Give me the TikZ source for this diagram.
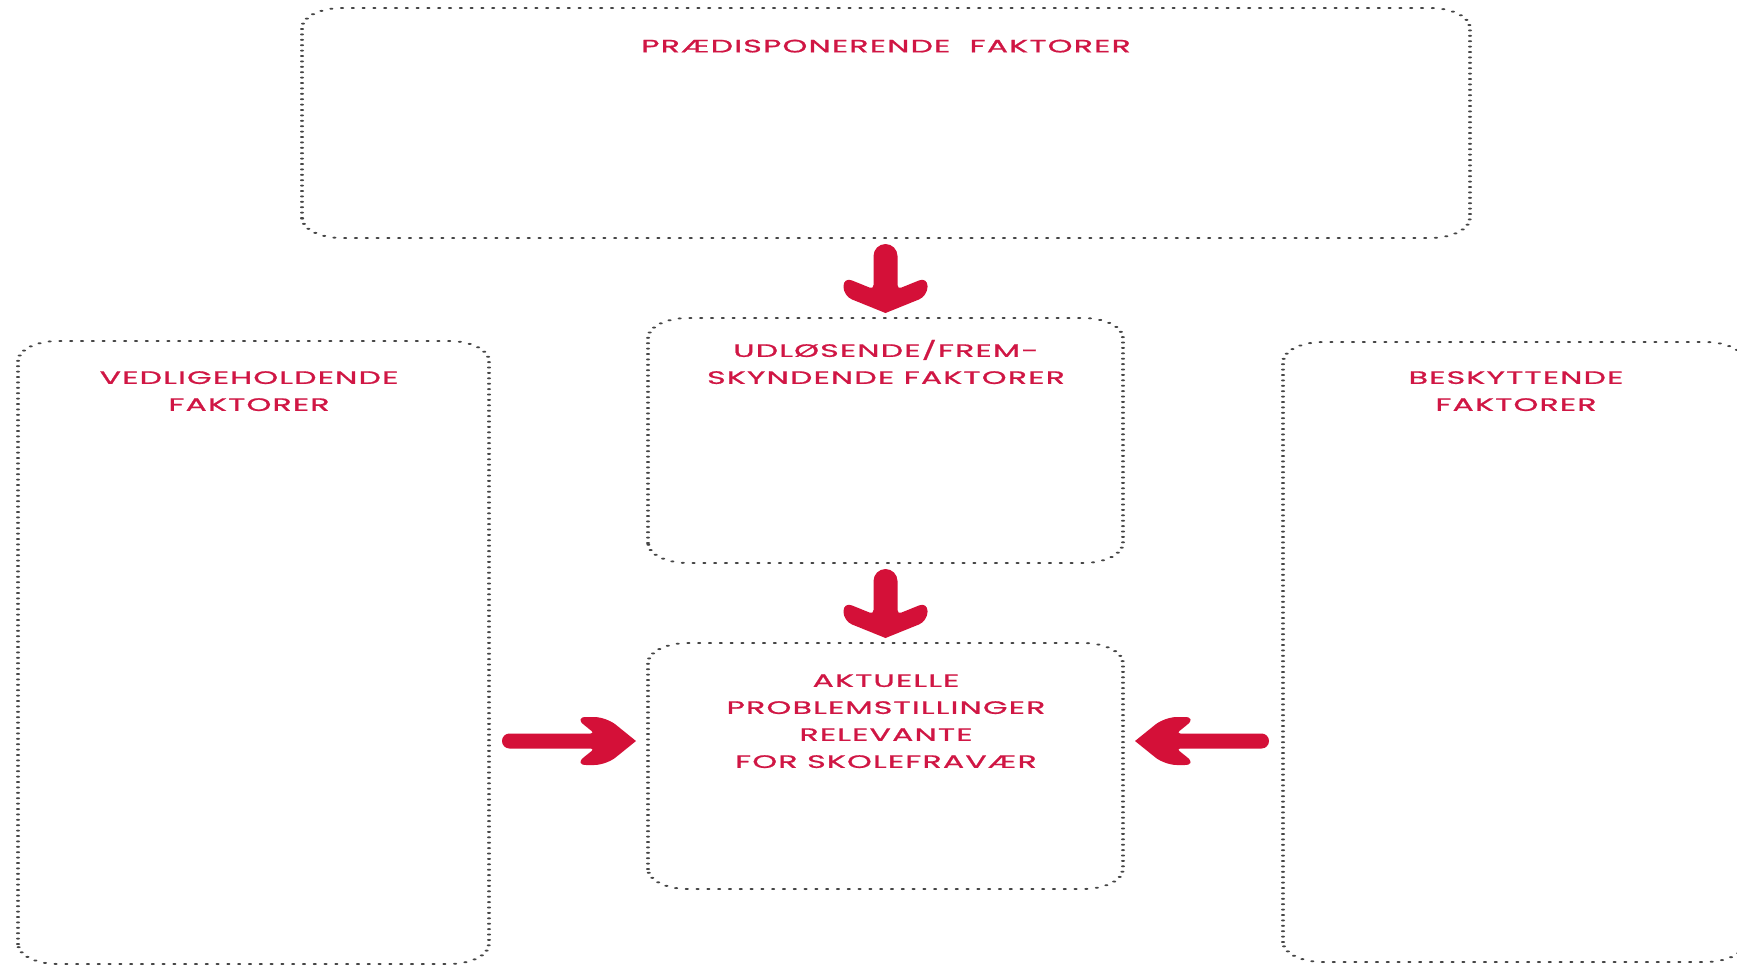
\documentclass[tikz,border=0pt]{standalone}
\usepackage{fontspec}
\setmainfont{Poppins}
\newfontfamily\lblfont[LetterSpace=4,FakeBold=0.9]{Poppins}
\usetikzlibrary{calc}
\definecolor{txtred}{RGB}{208,22,68}
\definecolor{arrred}{RGB}{212,16,56}
\definecolor{dotgray}{RGB}{70,70,70}
\newcommand\txs{1.75}
\newcommand\sx[1]{\scalebox{\txs}[1]{\begin{tabular}{@{}c@{}}#1\end{tabular}}}
\newcommand\dotoutline[1]{%
  \path (#1.south west); \pgfgetlastxy{\dbax}{\dbay}%
  \path (#1.north east); \pgfgetlastxy{\dbbx}{\dbby}%
  \draw[dotbox] ({\dbax/2},{\dbay}) rectangle ({\dbbx/2},{\dbby});}
\begin{document}
\begin{tikzpicture}[x=0.5pt,y=-0.5pt,
  boxarea/.style={inner sep=0pt, outer sep=0pt},
  dotbox/.style={draw=dotgray, line width=1pt, line cap=round,
    dash pattern=on 0pt off 2.7pt, rounded corners=10pt,
    transform canvas={xscale=2}},
  lbl/.style={font=\lblfont\fontsize{9}{13.5}\selectfont, text=txtred,
    inner sep=0pt, align=center},
  bigarrow/.style={fill=arrred, draw=none}]
\useasboundingbox (0,0) rectangle (1737,966);
\fill[white] (0,0) rectangle (1737,966);

% box areas
\node[boxarea, minimum width=584pt, minimum height=115pt] (pre) at (886,123) {};
\node[boxarea, minimum width=237.5pt, minimum height=122.5pt] (udl) at (885.5,440.5) {};
\node[boxarea, minimum width=237.5pt, minimum height=123pt] (akt) at (885.5,766) {};
\node[boxarea, minimum width=235.5pt, minimum height=311.5pt] (ved) at (253.5,652.5) {};
\node[boxarea, minimum width=231pt, minimum height=310pt] (bes) at (1514,652) {};

% dotted outlines
\dotoutline{pre}
\dotoutline{udl}
\dotoutline{akt}
\dotoutline{ved}
\dotoutline{bes}

% labels
\node[lbl] (tpre) at (886,47) {\sx{PRÆDISPONERENDE\ \ FAKTORER}};
\node[lbl] (tudl) at (886,365) {\sx{UDLØSENDE/FREM-\\SKYNDENDE FAKTORER}};
\node[lbl] (takt) at (886,722) {\sx{AKTUELLE\\PROBLEMSTILLINGER\\RELEVANTE\\FOR SKOLEFRAVÆR}};
\node[lbl] (tved) at (249,392) {\sx{VEDLIGEHOLDENDE\\FAKTORER}};
\node[lbl] (tbes) at (1516,392) {\sx{BESKYTTENDE\\FAKTORER}};

% arrow tips, taken from the boxes they point at
\coordinate (t1) at ($(udl.north)+(0,-5)$);
\coordinate (t2) at ($(akt.north)+(0,-5)$);
\coordinate (t3) at ($(akt.west)+(-12,-25)$);
\coordinate (t4) at ($(akt.east)+(12,-25)$);

% down arrows: pre -> udl, udl -> akt
\foreach \t in {t1,t2}{
  \fill[bigarrow] (\t) [rounded corners=4.5pt] -- ++(-42,-17) -- ++(0,-19)
    [rounded corners=2pt] -- ++(30,12.15) [rounded corners=6pt] -- ++(0,-45.15) -- ++(24,0)
    [rounded corners=2pt] -- ++(0,45.15) [rounded corners=4.5pt] -- ++(30,-12.15) -- ++(0,19)
    [sharp corners] -- cycle;
}
% ved -> akt (pointing right)
\fill[bigarrow] (t3) [rounded corners=6pt] -- ++(-29.75,24) -- ++(-32,0)
  [rounded corners=2pt] -- ++(20.45,-16.5) [rounded corners=3.7pt] -- ++(-92.7,0) -- ++(0,-15)
  [rounded corners=2pt] -- ++(92.7,0) [rounded corners=6pt] -- ++(-20.45,-16.5) -- ++(32,0)
  [sharp corners] -- cycle;
% bes -> akt (pointing left)
\fill[bigarrow] (t4) [rounded corners=6pt] -- ++(29.75,24) -- ++(32,0)
  [rounded corners=2pt] -- ++(-20.45,-16.5) [rounded corners=3.7pt] -- ++(92.7,0) -- ++(0,-15)
  [rounded corners=2pt] -- ++(-92.7,0) [rounded corners=6pt] -- ++(20.45,-16.5) -- ++(-32,0)
  [sharp corners] -- cycle;
\end{tikzpicture}
\end{document}
